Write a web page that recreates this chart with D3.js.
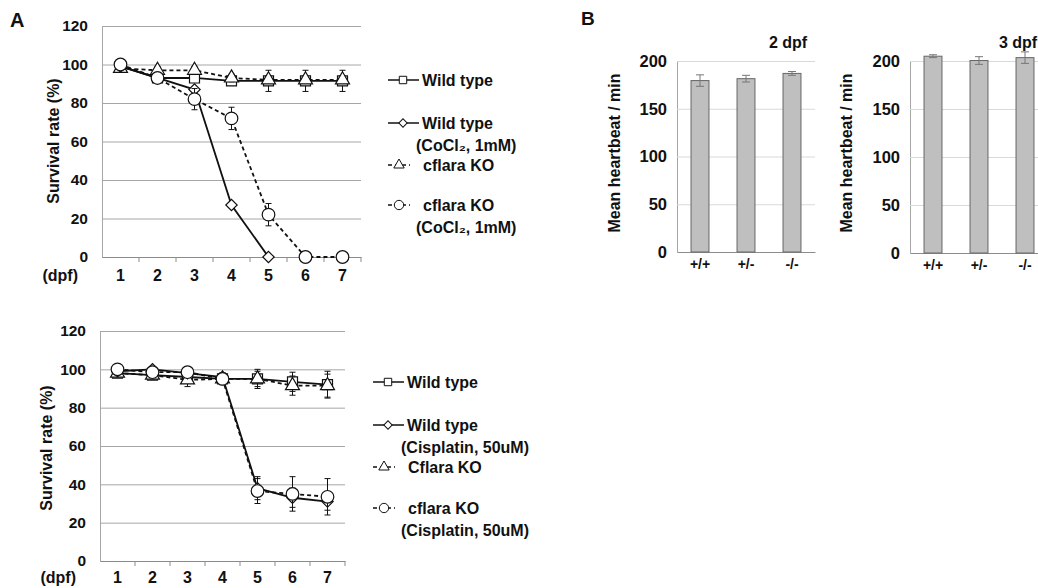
<!DOCTYPE html>
<html>
<head>
<meta charset="utf-8">
<script src="https://cdn.jsdelivr.net/npm/d3@7"></script>
<style>
  body { margin: 0; background: #fff; }
  svg text { font-family: "Liberation Sans", Arial, sans-serif; font-weight: bold; fill: #111; }
</style>
</head>
<body>
<svg id="fig" width="1038" height="588"></svg>
<script>
// ---- data ----
const days = [1, 2, 3, 4, 5, 6, 7];
const survivalTicks = [0, 20, 40, 60, 80, 100, 120];

// panel A, CoCl2
const coWildType = [99, 93, 93, 91.5, 91.5, 91.5, 91.5];
const coWildTypeErr = [1, 1, 1, 1.5, 5.5, 5.5, 5.5];
const coWildTypeCo = [99, 93, 87, 27, 0, null, null];
const coWildTypeCoErr = [0, 0, 0, 1, 0, 0, 0];
const coKO = [98, 97, 97, 93, 92, 92, 92];
const coKOErr = [1, 2, 2, 2, 1, 1, 1];
const coKOCo = [100, 93, 82, 72, 22, 0, 0];
const coKOCoErr = [1, 1, 5.5, 5.8, 5.8, 0, 0];

// panel A, cisplatin
const ciWildType = [98, 97, 96, 95, 95, 93.5, 92];
const ciWildTypeErr = [1, 1, 1, 1, 5, 5, 7];
const ciWildTypeCi = [99, 100, 98, 96, 38, 33, 31];
const ciWildTypeCiErr = [0, 0, 1, 2, 6, 5, 4.5];
const ciKO = [98, 97, 94.5, 95, 95, 91.5, 91.5];
const ciKOErr = [1, 2, 3.5, 3, 4, 5, 6];
const ciKOCi = [100, 98.5, 98.5, 95, 36.5, 35, 33.5];
const ciKOCiErr = [0, 1, 1, 3, 6.5, 9, 9.5];

// panel B
const genotypes = ["+/+", "+/-", "-/-"];
const heartbeatTicks = [0, 50, 100, 150, 200];
const beat2dpf = [179.5, 181.5, 187];
const beat2dpfErr = [6, 3.5, 2];
const beat3dpf = [205, 200.5, 203.5];
const beat3dpfErr = [1.5, 4, 6];

const svg = d3.select('#fig');

// diamond = square turned 45 degrees (Excel style)
const symbols = {
  square: d3.symbolSquare,
  diamond: d3.symbolSquare,
  triangle: d3.symbolTriangle,
  circle: d3.symbolCircle
};
const symbolSize = { square: 100, diamond: 64, triangle: 85, circle: 125 };
const symbolRot = s => s === 'diamond' ? ' rotate(45)' : '';

function drawSurvival(cfg) {
  const g = svg.append('g');
  const x = d3.scaleBand().domain(days).range([cfg.left, cfg.right]);
  const y = d3.scaleLinear().domain([0, 120]).range([cfg.bottom, cfg.top]);

  // gridlines + y labels
  const yAxis = g.append('g')
    .attr('transform', `translate(${cfg.left},0)`)
    .call(d3.axisLeft(y).tickValues(survivalTicks)
      .tickSizeInner(-(cfg.right - cfg.left)).tickSizeOuter(0).tickPadding(14));
  yAxis.selectAll('.tick line').attr('stroke', '#a6a6a6');
  yAxis.select('.domain').attr('stroke', '#a6a6a6');
  yAxis.selectAll('text').attr('font-size', 15.5).attr('fill', '#111');

  // x axis
  const xAxis = g.append('g')
    .attr('transform', `translate(0,${cfg.bottom})`)
    .call(d3.axisBottom(x).tickSize(0).tickPadding(cfg.xPad));
  xAxis.select('.domain').attr('stroke', '#8c8c8c');
  xAxis.selectAll('text').attr('font-size', 16).attr('fill', '#111');
  g.append('g').selectAll('line')
    .data(days)
    .join('line')
      .attr('x1', d => x(d) + x.bandwidth())
      .attr('x2', d => x(d) + x.bandwidth())
      .attr('y1', cfg.bottom)
      .attr('y2', cfg.bottom + 5)
      .attr('stroke', '#8c8c8c');
  g.append('text')
    .attr('x', cfg.left - 24)
    .attr('y', cfg.bottom + cfg.xPad)
    .attr('dy', '0.71em')
    .attr('text-anchor', 'end')
    .attr('font-size', 16)
    .text('(dpf)');

  g.append('text')
    .attr('transform', `translate(${cfg.titleX},${cfg.titleY}) rotate(-90)`)
    .attr('text-anchor', 'middle')
    .attr('font-size', 16)
    .text('Survival rate (%)');

  const cx = d => x(d) + x.bandwidth() / 2;
  const line = d3.line()
    .defined(d => d.v !== null)
    .x(d => cx(d.day))
    .y(d => y(d.v));

  cfg.series.forEach(s => {
    const pts = days.map((day, i) => ({ day, v: s.values[i], e: s.err[i] }));
    const valid = pts.filter(p => p.v !== null);
    const sg = g.append('g');
    sg.append('path')
      .datum(pts)
      .attr('d', line)
      .attr('fill', 'none')
      .attr('stroke', '#111')
      .attr('stroke-width', 1.8)
      .attr('stroke-dasharray', s.dashed ? '4,3' : null);
    const eb = sg.selectAll('.err')
      .data(valid.filter(p => p.e > 1.2))
      .join('g');
    eb.append('line')
      .attr('x1', p => cx(p.day)).attr('x2', p => cx(p.day))
      .attr('y1', p => y(p.v - p.e)).attr('y2', p => y(p.v + p.e))
      .attr('stroke', '#111');
    [-1, 1].forEach(sgn => {
      eb.append('line')
        .attr('x1', p => cx(p.day) - 3).attr('x2', p => cx(p.day) + 3)
        .attr('y1', p => y(p.v + sgn * p.e)).attr('y2', p => y(p.v + sgn * p.e))
        .attr('stroke', '#111');
    });
    sg.selectAll('.mark')
      .data(valid)
      .join('path')
        .attr('transform', p => `translate(${cx(p.day)},${y(p.v)})${symbolRot(s.shape)}`)
        .attr('d', d3.symbol(symbols[s.shape], symbolSize[s.shape]))
        .attr('fill', '#fff')
        .attr('stroke', '#111')
        .attr('stroke-width', 1.2);
  });

  // legend
  const lg = g.append('g');
  cfg.series.forEach(s => {
    const row = lg.append('g').attr('transform', `translate(${cfg.legX},${s.legY})`);
    const w = s.dashed ? 22 : 31;
    row.append('line')
      .attr('x1', 0).attr('x2', w).attr('y1', 0).attr('y2', 0)
      .attr('stroke', '#111').attr('stroke-width', 1.5)
      .attr('stroke-dasharray', s.dashed ? '4,3' : null);
    row.append('path')
      .attr('transform', `translate(${s.dashed ? 11 : 15},0)${symbolRot(s.shape)}`)
      .attr('d', d3.symbol(symbols[s.shape], symbolSize[s.shape] * 0.55))
      .attr('fill', '#fff').attr('stroke', '#111');
    s.label.forEach((t, i) => {
      row.append('text')
        .attr('x', i === 0 ? (s.dashed ? 35 : 34) : 28)
        .attr('y', i * 22)
        .attr('dy', '0.35em')
        .attr('font-size', 16)
        .text(t);
    });
  });
}

drawSurvival({
  left: 102, right: 361, top: 26, bottom: 257, xPad: 13, titleX: 59, titleY: 141, legX: 388,
  series: [
    { values: coWildType, err: coWildTypeErr, shape: 'square', dashed: false, legY: 80, label: ['Wild type'] },
    { values: coKO, err: coKOErr, shape: 'triangle', dashed: true, legY: 165, label: [' cflara KO'] },
    { values: coWildTypeCo, err: coWildTypeCoErr, shape: 'diamond', dashed: false, legY: 123, label: ['Wild type', '(CoCl\u2082, 1mM)'] },
    { values: coKOCo, err: coKOCoErr, shape: 'circle', dashed: true, legY: 205, label: [' cflara KO', '(CoCl\u2082, 1mM)'] }
  ]
});

drawSurvival({
  left: 100, right: 345, top: 331, bottom: 561, xPad: 11, titleX: 52, titleY: 448, legX: 373,
  series: [
    { values: ciWildType, err: ciWildTypeErr, shape: 'square', dashed: false, legY: 382, label: ['Wild type'] },
    { values: ciKO, err: ciKOErr, shape: 'triangle', dashed: true, legY: 467, label: [' Cflara KO'] },
    { values: ciWildTypeCi, err: ciWildTypeCiErr, shape: 'diamond', dashed: false, legY: 425, label: ['Wild type', '(Cisplatin, 50uM)'] },
    { values: ciKOCi, err: ciKOCiErr, shape: 'circle', dashed: true, legY: 508, label: [' cflara KO', '(Cisplatin, 50uM)'] }
  ]
});

function drawHeartbeat(cfg) {
  const g = svg.append('g');
  const x = d3.scaleBand().domain(genotypes).range([cfg.left, cfg.right])
    .paddingInner(0.61).paddingOuter(0.305);
  const y = d3.scaleLinear().domain([0, 200]).range([cfg.bottom, cfg.top]);

  const yAxis = g.append('g')
    .attr('transform', `translate(${cfg.left},0)`)
    .call(d3.axisLeft(y).tickValues(heartbeatTicks)
      .tickSizeInner(-(cfg.right - cfg.left)).tickSizeOuter(0).tickPadding(10));
  yAxis.selectAll('.tick line').attr('stroke', '#d9d9d9');
  yAxis.select('.domain').attr('stroke', '#a6a6a6');
  yAxis.selectAll('text').attr('font-size', 16.5).attr('fill', '#111');

  const xAxis = g.append('g')
    .attr('transform', `translate(0,${cfg.bottom})`)
    .call(d3.axisBottom(x).tickSize(0).tickPadding(7));
  xAxis.select('.domain').attr('stroke', '#8c8c8c');
  xAxis.selectAll('text').attr('font-size', 14).attr('fill', '#111');

  g.selectAll('.bar')
    .data(cfg.values)
    .join('rect')
      .attr('x', (d, i) => x(genotypes[i]))
      .attr('width', x.bandwidth())
      .attr('y', d => y(d))
      .attr('height', d => y(0) - y(d))
      .attr('fill', '#bfbfbf')
      .attr('stroke', '#666')
      .attr('stroke-width', 1);

  const cx = i => x(genotypes[i]) + x.bandwidth() / 2;
  const eb = g.selectAll('.err').data(cfg.values).join('g');
  eb.append('line')
    .attr('x1', (d, i) => cx(i)).attr('x2', (d, i) => cx(i))
    .attr('y1', (d, i) => y(d - cfg.err[i])).attr('y2', (d, i) => y(d + cfg.err[i]))
    .attr('stroke', '#777');
  [-1, 1].forEach(sgn => {
    eb.append('line')
      .attr('x1', (d, i) => cx(i) - 4).attr('x2', (d, i) => cx(i) + 4)
      .attr('y1', (d, i) => y(d + sgn * cfg.err[i])).attr('y2', (d, i) => y(d + sgn * cfg.err[i]))
      .attr('stroke', '#777');
  });

  g.append('text')
    .attr('x', cfg.titleCx).attr('y', 48)
    .attr('text-anchor', 'middle')
    .attr('font-size', 16)
    .text(cfg.title);

  g.append('text')
    .attr('transform', `translate(${cfg.labelX},153) rotate(-90)`)
    .attr('text-anchor', 'middle')
    .attr('font-size', 16)
    .text('Mean heartbeat / min');
}

drawHeartbeat({ left: 677, right: 815, top: 61, bottom: 252, values: beat2dpf, err: beat2dpfErr, title: '2 dpf', titleCx: 788, labelX: 620 });
drawHeartbeat({ left: 910, right: 1048, top: 61, bottom: 253, values: beat3dpf, err: beat3dpfErr, title: '3 dpf', titleCx: 1018, labelX: 852 });

svg.append('text').attr('x', 10).attr('y', 27).attr('font-size', 20).text('A');
svg.append('text').attr('x', 581).attr('y', 25).attr('font-size', 19).text('B');
</script>
</body>
</html>
